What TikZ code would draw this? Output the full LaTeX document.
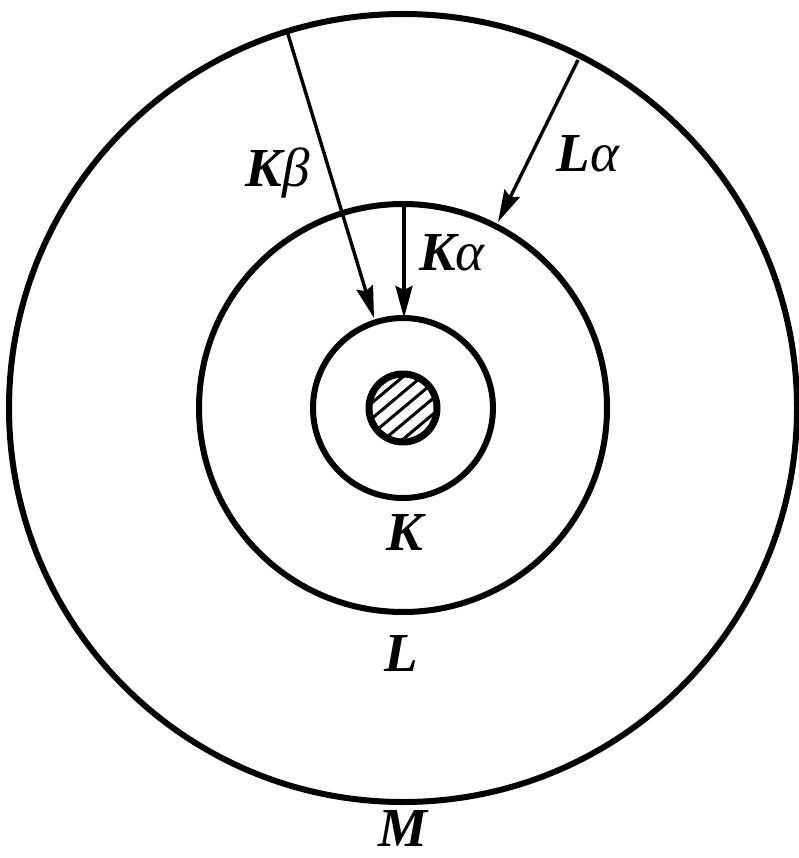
\documentclass[tikz,border=0pt]{standalone}
\usepackage{fontspec}
\setmainfont{Liberation Serif}
\usetikzlibrary{arrows.meta}
\begin{document}
\begin{tikzpicture}[x=1pt,y=-1pt,
  shell/.style={draw, circle, line width=6pt, inner sep=0pt},
  trans/.style={line width=3.4pt, -{Stealth[length=32pt,width=17pt,inset=4pt]}},
  lab/.style={font=\fontsize{55}{60}\selectfont\bfseries\itshape, inner sep=0pt, anchor=base}]
\useasboundingbox (0,0) rectangle (799,858);
\coordinate (c) at (403,408);
% shells
\node[shell, minimum size=788pt] (Mshell) at (c) {};
\node[shell, minimum size=408pt] (Lshell) at (c) {};
\node[shell, minimum size=180pt] (Kshell) at (c) {};
% nucleus hatching
\begin{scope}
  \clip (c) circle (32);
  \begin{scope}[shift={(c)}, rotate=40]
    \foreach \d in {-24,-12,0,12,24}
      \draw[line width=3pt] (-40,\d) -- (40,\d);
  \end{scope}
\end{scope}
\node[circle, draw, line width=7pt, minimum size=68pt, inner sep=0pt] (nuc) at (c) {};
% transition end points
\coordinate (kbs) at (287,31);
\coordinate (kbe) at (374,318);
\coordinate (kas) at (404,203);
\coordinate (kae) at (404,318);
\coordinate (las) at (578,60);
\coordinate (lae) at (498,222);
\draw[trans] (kbs) -- (kbe);
\draw[trans] (kas) -- (kae);
\draw[trans] (las) -- (lae);
% labels
\node[lab] (lkb) at (278,187) {K{\mdseries β}};
\node[lab] (lka) at (452,270) {K{\mdseries α}};
\node[lab] (lla) at (588,172) {L{\mdseries α}};
\node[lab] (lK) at (405,550) {K};
\node[lab] (lL) at (401,671) {L};
\node[lab] (lM) at (403,846) {M};
\end{tikzpicture}
\end{document}
